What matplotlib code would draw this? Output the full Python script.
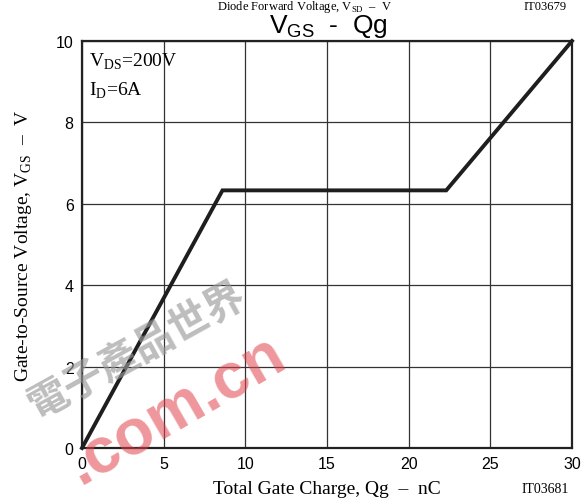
import matplotlib
matplotlib.use("Agg")
import matplotlib.pyplot as plt

plt.rcParams['mathtext.fontset'] = 'custom'
plt.rcParams['mathtext.rm'] = 'Liberation Serif'
plt.rcParams['mathtext.sf'] = 'Liberation Sans'

# Data
qg = [0, 8.6, 22.3, 30]
vgs = [0, 6.33, 6.33, 10]
xticks = [0, 5, 10, 15, 20, 25, 30]
yticks = [0, 2, 4, 6, 8, 10]

fig = plt.figure(figsize=(5.86, 5.02), dpi=100)
ax = fig.add_axes([82/586, 1-449/502, (572-82)/586, (449-42)/502])

ax.set_xlim(0, 30)
ax.set_ylim(0, 10)
ax.set_xticks(xticks)
ax.set_yticks(yticks)
ax.grid(True, color='#333333', linewidth=0.9)
ax.tick_params(length=0, labelsize=11.5, pad=6)
for lab in ax.get_xticklabels() + ax.get_yticklabels():
    lab.set_fontfamily('Liberation Sans')
for s in ax.spines.values():
    s.set_linewidth(1.6)
    s.set_color('#222222')

ax.plot(qg, vgs, color='#1e1e1e', linewidth=2.8, solid_joinstyle='miter', zorder=3, clip_on=False)

ax.set_xlabel(r'Total Gate Charge, Qg  –  nC', family='Liberation Serif', fontsize=14, labelpad=6)
ax.set_ylabel(r'Gate-to-Source Voltage, V$_{\mathrm{GS}}$  –  V', family='Liberation Serif', fontsize=14, labelpad=16)

ax.text(0.015, 0.975, r'V$_{\mathrm{DS}}$=200V', transform=ax.transAxes, family='Liberation Serif',
        fontsize=14, va='top', ha='left')
ax.text(0.015, 0.905, r'I$_{\mathrm{D}}$=6A', transform=ax.transAxes, family='Liberation Serif',
        fontsize=14, va='top', ha='left')

fig.text(328/586, 1-33/502, r'V$_{\mathsf{GS}}$  -  Qg', family='Liberation Sans', fontsize=19,
         ha='center', va='baseline')
fig.text(305/586, 1-10/502, r'Diode Forward Voltage, V$_{\mathrm{SD}}$  –  V', family='Liberation Serif',
         fontsize=9, ha='center', va='baseline')
fig.text(545/586, 1-10/502, 'IT03679', family='Liberation Serif', fontsize=9, ha='center', va='baseline')
fig.text(545/586, 1-490/502, 'IT03681', family='Liberation Serif', fontsize=10, ha='center', va='center')

# watermark
fig.text(138/586, 1-352/502, '電子產品世界', family=['Noto Sans CJK TC', 'DejaVu Sans'],
         fontsize=29, color='#9a9a9a', alpha=0.65, rotation=29, ha='center', va='center',
         fontweight='bold', zorder=5)
fig.text(176/586, 1-410/502, '.com.cn', family='Liberation Sans', fontsize=46, fontweight='bold',
         color='#e0404a', alpha=0.55, rotation=30, ha='center', va='center', zorder=5)

fig.savefig('out.png', dpi=100)
